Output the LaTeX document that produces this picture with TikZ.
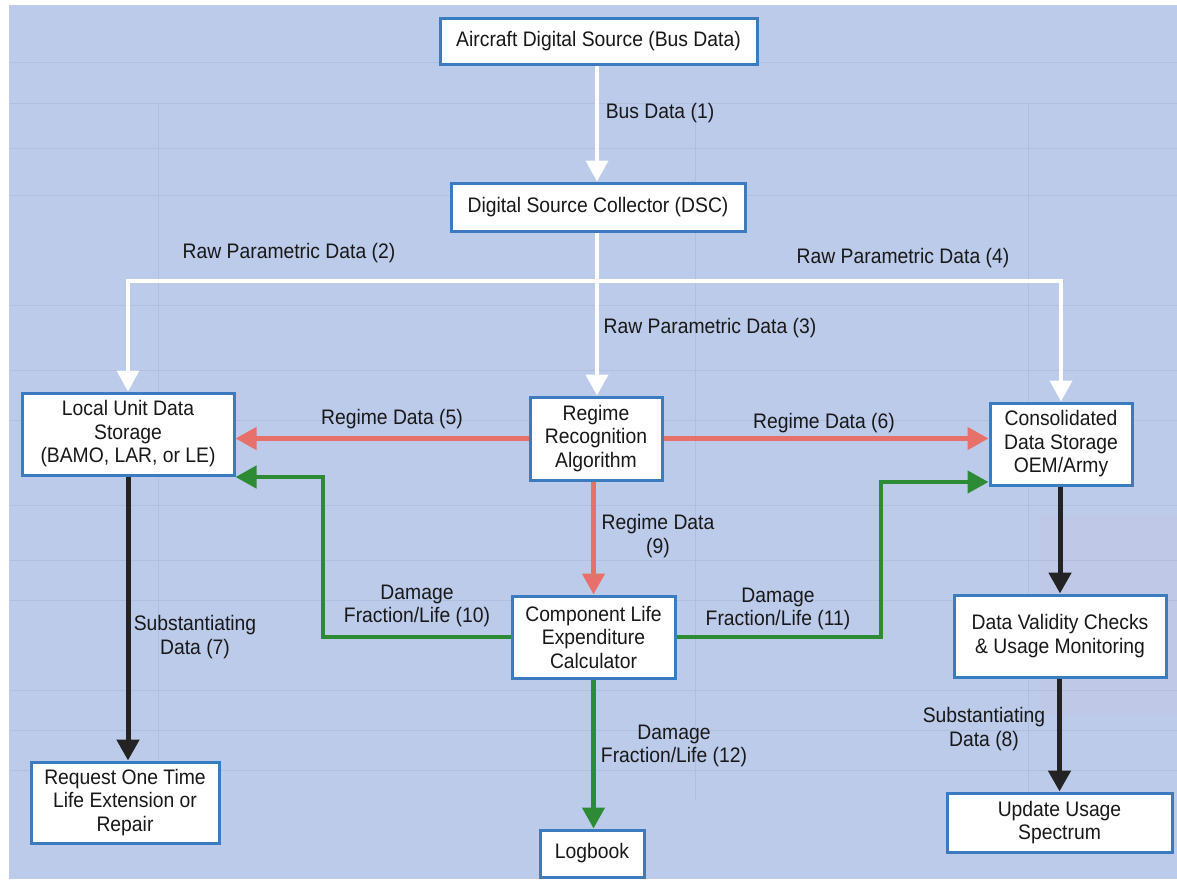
\documentclass[tikz,border=0pt]{standalone}
\usepackage{fontspec}
\setmainfont{Liberation Sans}[FakeStretch=0.92]
\usetikzlibrary{arrows.meta}

\definecolor{paper}{HTML}{BCCBEA}
\definecolor{gridc}{HTML}{B0BFE0}
\definecolor{tint}{HTML}{C0C8E8}
\definecolor{boxblue}{HTML}{3B7BBF}
\definecolor{regred}{HTML}{E8706A}
\definecolor{dmggreen}{HTML}{2E8B35}
\definecolor{subblack}{HTML}{232323}
\definecolor{ink}{HTML}{181818}

\tikzset{
  x=1pt, y=-1pt,
  every node/.style={font=\fontsize{21}{23.5}\selectfont, text=ink},
  blk/.style={draw=boxblue, line width=3pt, fill=white, align=center,
    inner sep=0pt, minimum width=#1},
  lbl/.style={align=center, inner sep=0pt},
  head/.style={-{Triangle[length=21pt,width=22pt]}},
  wflow/.style={draw=white, line width=4pt, head},
  rflow/.style={draw=regred, line width=4.5pt, head},
  gflow/.style={draw=dmggreen, line width=4.5pt, head},
  kflow/.style={draw=subblack, line width=5pt, head},
}

\begin{document}
\begin{tikzpicture}
\useasboundingbox (0,0) rectangle (1177,884);
\fill[white] (0,0) rectangle (1177,884);
\fill[paper] (9,5) rectangle (1177,879);
\fill[tint] (1040,515) rectangle (1177,715);

% faint table rules of the sheet underneath
\begin{scope}[draw=gridc, line width=1pt]
  \foreach \yy in {62,103,148,195,305,370,420,505,560,600,690,730,770}
    \draw (10,\yy) -- (1177,\yy);
  \foreach \xx in {158,695,1028}
    \draw (\xx,103) -- (\xx,800);
\end{scope}

% blocks
\node[blk=317pt, minimum height=46pt] (src) at (598.5,41) {Aircraft Digital Source (Bus Data)};
\node[blk=294pt, minimum height=48pt] (dsc) at (598,207) {Digital Source Collector (DSC)};
\node[blk=212pt, minimum height=82pt] (local) at (128,434) {Local Unit Data\\Storage\\(BAMO, LAR, or LE)};
\node[blk=132pt, minimum height=83pt] (regime) at (596,438.5) {Regime\\Recognition\\Algorithm};
\node[blk=142pt, minimum height=82pt] (cons) at (1061,444) {Consolidated\\Data Storage\\OEM/Army};
\node[blk=163pt, minimum height=82pt] (clec) at (593.5,637) {Component Life\\Expenditure\\Calculator};
\node[blk=212pt, minimum height=82pt] (valid) at (1060,636) {Data Validity Checks\\\& Usage Monitoring};
\node[blk=188pt, minimum height=81pt] (request) at (125,802.5) {Request One Time\\Life Extension or\\Repair};
\node[blk=104pt, minimum height=47pt] (logbook) at (592,853.5) {Logbook};
\node[blk=225pt, minimum height=59pt] (update) at (1059.5,822.5) {Update Usage\\Spectrum};

% junction and bend points
\coordinate (split) at (597,281);
\coordinate (g10) at (323,477);
\coordinate (g11) at (881,482);

% raw parametric data
\draw[wflow] (src.south -| split) -- (dsc.north -| split);
\draw[wflow] (dsc.south -| split) -- (regime.north -| split);
\draw[wflow] (split) -| (local.north);
\draw[wflow] (split) -| (cons.north);

% regime data
\draw[rflow] (regime.west) -- (regime.west -| local.east);
\draw[rflow] (regime.east) -- (regime.east -| cons.west);
\draw[rflow] (regime.south -| clec.north) -- (clec.north);

% damage fraction / life
\draw[gflow] (clec.west) -| (g10) -- (g10 -| local.east);
\draw[gflow] (clec.east) -| (g11) -- (g11 -| cons.west);
\draw[gflow] (clec.south) -- (clec.south |- logbook.north);

% substantiating data
\draw[kflow] (local.south) -- (local.south |- request.north);
\draw[kflow] (cons.south -| valid.north) -- (valid.north);
\draw[kflow] (valid.south -| update.north) -- (update.north);

% connector labels
\node[lbl] (l1) at (660,113) {Bus Data (1)};
\node[lbl] (l2) at (289,253) {Raw Parametric Data (2)};
\node[lbl] (l4) at (903,258) {Raw Parametric Data (4)};
\node[lbl] (l3) at (710,328) {Raw Parametric Data (3)};
\node[lbl] (l5) at (392,419) {Regime Data (5)};
\node[lbl] (l6) at (824,423) {Regime Data (6)};
\node[lbl] (l9) at (658,536) {Regime Data\\(9)};
\node[lbl] (l10) at (417,606) {Damage\\Fraction/Life (10)};
\node[lbl] (l11) at (778,609) {Damage\\Fraction/Life (11)};
\node[lbl] (l7) at (195,637) {Substantiating\\Data (7)};
\node[lbl] (l12) at (674,746) {Damage\\Fraction/Life (12)};
\node[lbl] (l8) at (984,729) {Substantiating\\Data (8)};
\end{tikzpicture}
\end{document}
